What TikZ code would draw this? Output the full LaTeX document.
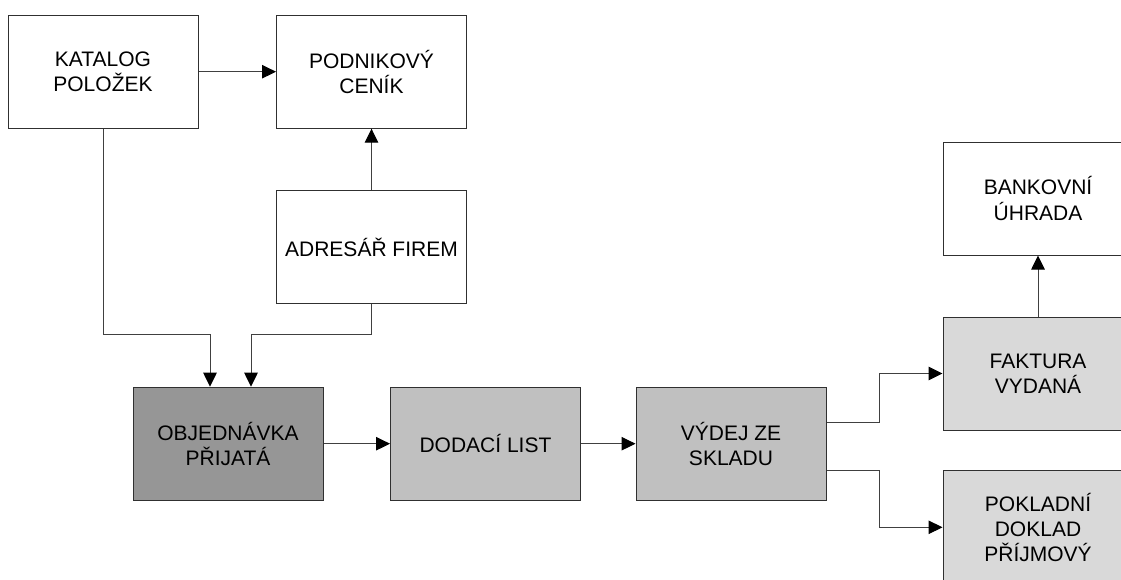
\documentclass[tikz,border=0pt]{standalone}
\usepackage{fontspec}
\setmainfont{Liberation Sans}
\usetikzlibrary{arrows.meta}
\definecolor{darkfill}{HTML}{969696}
\definecolor{midfill}{HTML}{C0C0C0}
\definecolor{lightfill}{HTML}{D9D9D9}
\definecolor{edgecol}{HTML}{303030}
\definecolor{linecol}{HTML}{404040}
\tikzset{
  box/.style={draw=edgecol, line width=1pt, rectangle, minimum width=190pt, minimum height=113pt,
    align=center, inner sep=0pt, font=\fontsize{21}{25.3}\selectfont},
  conn/.style={draw=linecol, line width=1pt, -{Triangle[length=14pt,width=13.5pt,fill=black,color=black]}},
}
\begin{document}
\begin{tikzpicture}[x=1pt,y=-1pt]
\useasboundingbox (0,0) rectangle (1121,579);
\clip (0,0) rectangle (1121,579);
\node[box, fill=white] (kat) at (103,71.7) {KATALOG\\POLOŽEK};
\node[box, fill=white] (pod) at (371.5,71.7) {PODNIKOVÝ\\CENÍK};
\node[box, fill=white] (adr) at (371.5,247) {ADRESÁŘ FIREM};
\node[box, fill=white] (ban) at (1038,198.5) {BANKOVNÍ\\ÚHRADA};
\node[box, fill=darkfill] (obj) at (228,443.7) {OBJEDNÁVKA\\PŘIJATÁ};
\node[box, fill=midfill] (dod) at (485.5,443.7) {DODACÍ LIST};
\node[box, fill=midfill] (vyd) at (731,443.7) {VÝDEJ ZE\\SKLADU};
\node[box, fill=lightfill] (fak) at (1038,373.5) {FAKTURA\\VYDANÁ};
\node[box, fill=lightfill] (pok) at (1038,527.3) {POKLADNÍ\\DOKLAD\\PŘÍJMOVÝ};

\draw[conn] (kat.east) -- (pod.west);
\draw[conn] (adr.north) -- (pod.south);
\draw[conn] (kat.south) -- ++(0,206) -| ([xshift=-18pt]obj.north);
\draw[conn] (adr.south) -- ++(0,30) -| ([xshift=23pt]obj.north);
\draw[conn] (obj.east) -- (dod.west);
\draw[conn] (dod.east) -- (vyd.west);
\draw[conn] ([yshift=20.8pt]vyd.east) -- ++(53,0) |- (fak.west);
\draw[conn] ([yshift=-26.3pt]vyd.east) -- ++(53,0) |- (pok.west);
\draw[conn] (fak.north) -- (ban.south);
\end{tikzpicture}
\end{document}
